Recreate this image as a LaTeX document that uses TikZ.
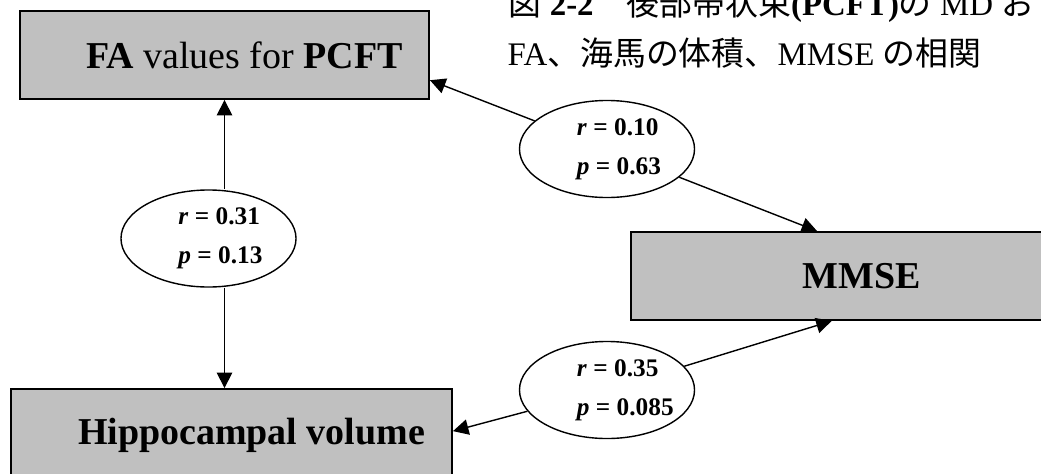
\documentclass[tikz,border=0pt]{standalone}
\usepackage{fontspec}
\setmainfont{Liberation Serif}
\newfontfamily\jpfont{Noto Sans CJK JP}
\usepackage{tikz}
\usetikzlibrary{shapes.geometric}
\usetikzlibrary{arrows.meta}
\definecolor{boxgray}{HTML}{C0C0C0}

\begin{document}
\begin{tikzpicture}[
  x=0.025cm, y=-0.025cm,
  every path/.style={line width=1pt},
  box/.style={draw,fill=boxgray,line width=1.3pt,inner sep=0pt,font=\fontsize{27}{32}\selectfont},
  corr/.style={ellipse,draw,fill=white,minimum width=4.375cm,minimum height=2.425cm,inner sep=0pt,align=center,font=\fontsize{18}{28}\selectfont\bfseries},
  caption/.style={anchor=base west,inner sep=0pt,font=\fontsize{23.4}{28}\selectfont},
  link/.style={-{Triangle[length=11pt,width=11pt]}},
]
\useasboundingbox (0,0) rectangle (1041,474);
% caption (cut off at the right)
\node[caption](cap1) at(508,15){{\jpfont 図} \textbf{2-2}{\jpfont 　後部帯状束}\textbf{(PCFT)}{\jpfont の} MD {\jpfont お}};
\node[caption](cap2) at(507,65){FA{\jpfont 、海馬の体積、}MMSE {\jpfont の相関}};
% boxes
\node[box,minimum width=10.225cm,minimum height=2.2cm](fa) at(224.5,55){\hspace*{1cm}\textbf{FA} values for \textbf{PCFT}};
\node[box,minimum width=11.55cm,minimum height=2.2cm](mmse) at(862,276){\textbf{MMSE}};
\node[box,minimum width=11.025cm,minimum height=2.3cm](hippo) at(231.5,435){\hspace*{1cm}\textbf{Hippocampal volume}};
% correlations
\node[corr](e1) at(607,149){\makebox[1.5cm][l]{\textit{r} = 0.10}\\\makebox[1.5cm][l]{\textit{p} = 0.63}};
\node[corr](e2) at(208.5,238.5){\makebox[1.5cm][l]{\textit{r} = 0.31}\\\makebox[1.5cm][l]{\textit{p} = 0.13}};
\node[corr](e3) at(607,390){\makebox[1.5cm][l]{\textit{r} = 0.35}\\\makebox[1.5cm][l]{\textit{p} = 0.085}};
\draw[link](e1)--(fa.-7); \draw[link](e1)--(mmse.135.6);
\draw[link](e3)--(mmse.-124); \draw[link](e3)--(hippo.1.3);
\draw[link](e2.north -| fa.south)--(fa.south);
\draw[link](e2.south -| fa.south)--(fa.south |- hippo.north);
\end{tikzpicture}
\end{document}
